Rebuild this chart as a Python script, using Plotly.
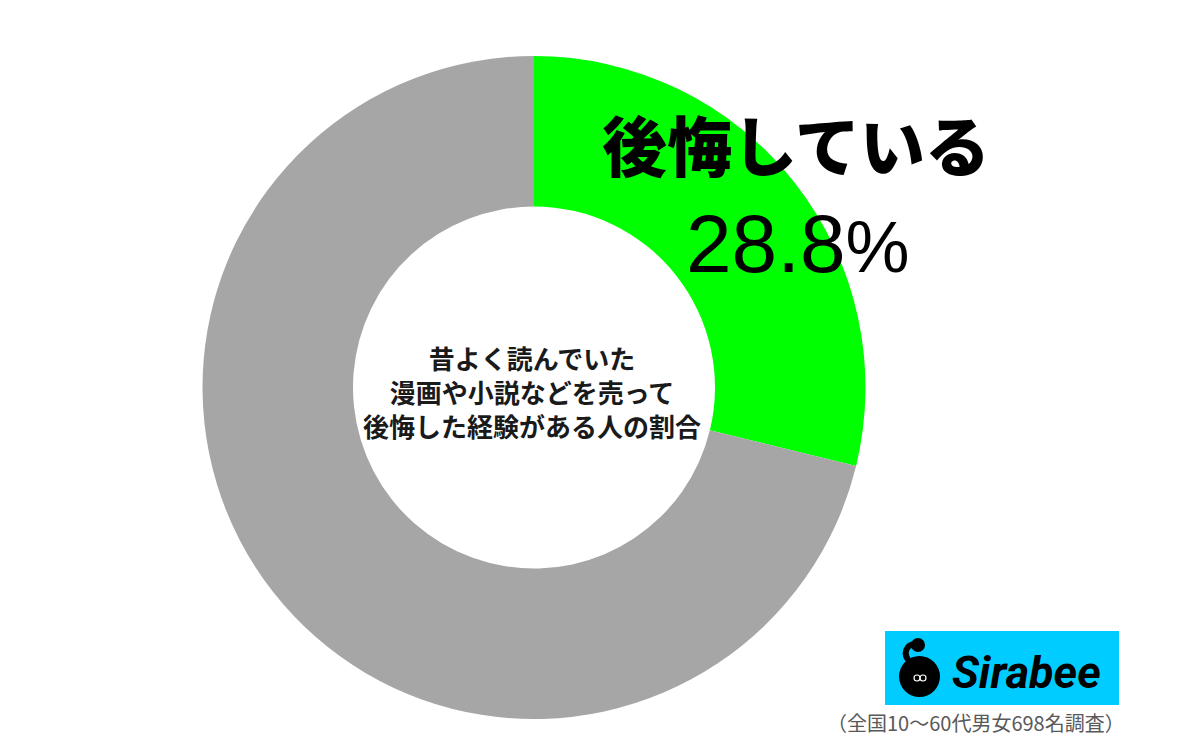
import plotly.graph_objects as go

labels = ["後悔している", "後悔していない"]
values = [28.8, 71.2]
colors = ["#00FF00", "#A6A6A6"]

center_text = ["昔よく読んでいた", "漫画や小説などを売って", "後悔した経験がある人の割合"]
highlight_label = "後悔している"
highlight_number = "28.8"
highlight_unit = "%"
footnote = "（全国10～60代男女698名調査）"
brand = "Sirabee"

OFF = 8  # default page body margin
W, H = 1200 - OFF, 752 - OFF
cx, cy, R = 534, 387.5, 331.5


def px(x):
    return (x - OFF) / W


def py(y):
    return 1 - (y - OFF) / H


fig = go.Figure()
fig.add_trace(go.Pie(
    labels=labels, values=values, sort=False, direction="clockwise", rotation=0,
    hole=0.546, marker=dict(colors=colors, line=dict(width=0)),
    textinfo="none", hoverinfo="label+percent", showlegend=False,
    domain=dict(x=[px(cx - R), px(cx + R)], y=[py(cy + R), py(cy - R)]),
))

ann = []
ann.append(dict(x=px(532), y=py(391), xref="paper", yref="paper", showarrow=False,
                xanchor="center", yanchor="middle",
                text="<br>".join(center_text), align="center",
                font=dict(family="Noto Sans CJK JP", size=26, color="#1a1a1a", weight="bold")))
ann.append(dict(x=px(796), y=py(143), xref="paper", yref="paper", showarrow=False,
                xanchor="center", yanchor="middle",
                text=highlight_label,
                font=dict(family="Noto Sans CJK JP", size=65, color="#000000", weight=900)))
ann.append(dict(x=px(798), y=py(243), xref="paper", yref="paper", showarrow=False,
                xanchor="center", yanchor="middle",
                text=highlight_number + '<span style="font-size:72px">' + highlight_unit + "</span>",
                font=dict(family="Liberation Sans", size=82, color="#000000")))
ann.append(dict(x=px(1127), y=py(722), xref="paper", yref="paper", showarrow=False,
                xanchor="right", yanchor="middle", text=footnote,
                font=dict(family="Noto Sans CJK JP", size=20, color="#595959")))
ann.append(dict(x=px(1026), y=py(672), xref="paper", yref="paper", showarrow=False,
                xanchor="center", yanchor="middle",
                text="<i><b>" + brand + "</b></i>",
                font=dict(family="Roboto", size=45, color="#000000", weight=900)))

shapes = [
    dict(type="rect", xref="paper", yref="paper", x0=px(885), x1=px(1119), y0=py(705), y1=py(631),
         fillcolor="#00CCFF", line=dict(width=0), layer="below"),
    dict(type="circle", xref="paper", yref="paper", x0=px(899), x1=px(940), y0=py(697), y1=py(656),
         fillcolor="#000000", line=dict(width=0), layer="above"),
    dict(type="path", xref="paper", yref="paper",
         path=f"M {px(910)},{py(662)} C {px(902)},{py(654)} {px(906)},{py(644)} {px(916)},{py(644)}",
         line=dict(color="#000000", width=6), layer="above"),
    dict(type="circle", xref="paper", yref="paper", x0=px(911), x1=px(925), y0=py(652), y1=py(638),
         fillcolor="#000000", line=dict(width=0), layer="above"),
    dict(type="circle", xref="paper", yref="paper", x0=px(914), x1=px(920), y0=py(681), y1=py(675),
         fillcolor="rgba(0,0,0,0)", line=dict(color="#FFFFFF", width=1.2), layer="above"),
    dict(type="circle", xref="paper", yref="paper", x0=px(920), x1=px(926), y0=py(681), y1=py(675),
         fillcolor="rgba(0,0,0,0)", line=dict(color="#FFFFFF", width=1.2), layer="above"),
]

fig.update_layout(width=W, height=H, margin=dict(l=0, r=0, t=0, b=0),
                  paper_bgcolor="#FFFFFF", plot_bgcolor="#FFFFFF",
                  annotations=ann, shapes=shapes)
fig.write_html("out.html")
